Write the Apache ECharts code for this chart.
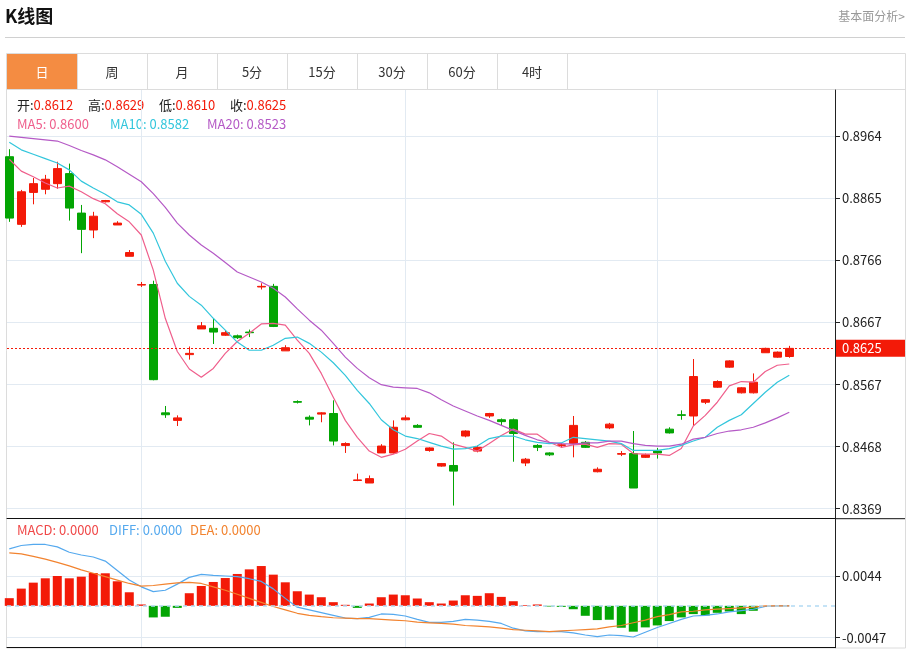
<!DOCTYPE html>
<html><head><meta charset="utf-8">
<script src="https://cdn.jsdelivr.net/npm/echarts@6/dist/echarts.min.js"></script>
<style>html,body{margin:0;padding:0;background:#fff}#c{width:911px;height:650px}</style>
</head><body><div id="c"></div>
<script>
const open = [0.8931,0.8823,0.8874,0.8879,0.8888,0.8904,0.8841,0.8814,0.8859,0.8822,0.8772,0.8726,0.8727,0.8522,0.8510,0.8615,0.8656,0.8657,0.8646,0.8645,0.8651,0.8723,0.8724,0.8621,0.8540,0.8515,0.8520,0.8521,0.8470,0.8414,0.8410,0.8458,0.8458,0.8511,0.8502,0.8462,0.8437,0.8438,0.8485,0.8461,0.8517,0.8511,0.8511,0.8442,0.8470,0.8458,0.8470,0.8473,0.8475,0.8428,0.8498,0.8456,0.8457,0.8451,0.8461,0.8496,0.8519,0.8517,0.8539,0.8563,0.8595,0.8554,0.8554,0.8618,0.8611,0.8612];
const close = [0.8833,0.8875,0.8888,0.8895,0.8912,0.8849,0.8815,0.8836,0.8861,0.8825,0.8778,0.8727,0.8575,0.8519,0.8514,0.8617,0.8661,0.8651,0.8650,0.8642,0.8650,0.8724,0.8660,0.8626,0.8539,0.8512,0.8522,0.8477,0.8473,0.8415,0.8417,0.8469,0.8499,0.8514,0.8499,0.8466,0.8441,0.8429,0.8493,0.8467,0.8521,0.8508,0.8489,0.8448,0.8467,0.8455,0.8471,0.8502,0.8467,0.8432,0.8504,0.8457,0.8402,0.8455,0.8458,0.8490,0.8518,0.8580,0.8543,0.8572,0.8605,0.8562,0.8571,0.8625,0.8619,0.8625];
const low = [0.8827,0.8819,0.8855,0.8871,0.8880,0.8829,0.8777,0.8801,0.8858,0.8822,0.8772,0.8723,0.8574,0.8514,0.8501,0.8607,0.8656,0.8632,0.8645,0.8640,0.8643,0.8719,0.8659,0.8621,0.8537,0.8502,0.8507,0.8470,0.8458,0.8413,0.8410,0.8458,0.8457,0.8510,0.8498,0.8460,0.8436,0.8374,0.8483,0.8459,0.8514,0.8501,0.8444,0.8437,0.8461,0.8453,0.8467,0.8451,0.8466,0.8427,0.8496,0.8453,0.8402,0.8450,0.8449,0.8489,0.8511,0.8501,0.8536,0.8562,0.8594,0.8553,0.8553,0.8618,0.8610,0.8610];
const high = [0.8943,0.8878,0.8897,0.8902,0.8923,0.8920,0.8854,0.8843,0.8862,0.8828,0.8782,0.8731,0.8733,0.8533,0.8518,0.8628,0.8667,0.8673,0.8654,0.8647,0.8655,0.8729,0.8728,0.8630,0.8542,0.8518,0.8523,0.8542,0.8475,0.8425,0.8422,0.8472,0.8510,0.8518,0.8504,0.8467,0.8442,0.8475,0.8494,0.8470,0.8522,0.8513,0.8513,0.8450,0.8472,0.8459,0.8474,0.8517,0.8477,0.8435,0.8506,0.8461,0.8493,0.8457,0.8466,0.8499,0.8526,0.8608,0.8544,0.8574,0.8606,0.8563,0.8585,0.8626,0.8620,0.8629];
const ma5 = [0.8927,0.8908,0.8899,0.8889,0.8881,0.8884,0.8875,0.8864,0.8856,0.8840,0.8827,0.8806,0.8750,0.8673,0.8620,0.8592,0.8579,0.8593,0.8617,0.8636,0.8649,0.8664,0.8665,0.8662,0.8638,0.8617,0.8585,0.8547,0.8510,0.8483,0.8461,0.8451,0.8456,0.8464,0.8477,0.8489,0.8485,0.8472,0.8467,0.8461,0.8473,0.8486,0.8496,0.8488,0.8488,0.8475,0.8467,0.8471,0.8472,0.8467,0.8473,0.8472,0.8457,0.8456,0.8456,0.8454,0.8465,0.8501,0.8518,0.8539,0.8565,0.8572,0.8571,0.8588,0.8598,0.8600];
const ma10 = [0.8954,0.8942,0.8935,0.8928,0.8921,0.8910,0.8892,0.8881,0.8871,0.8859,0.8854,0.8839,0.8809,0.8764,0.8729,0.8708,0.8694,0.8673,0.8654,0.8635,0.8622,0.8622,0.8630,0.8641,0.8643,0.8633,0.8619,0.8602,0.8582,0.8558,0.8537,0.8511,0.8495,0.8485,0.8481,0.8475,0.8469,0.8464,0.8465,0.8469,0.8481,0.8485,0.8485,0.8479,0.8475,0.8473,0.8474,0.8483,0.8481,0.8479,0.8477,0.8473,0.8462,0.8462,0.8462,0.8465,0.8470,0.8477,0.8483,0.8499,0.8510,0.8519,0.8537,0.8555,0.8571,0.8582];
const ma20 = [0.8964,0.8962,0.8960,0.8958,0.8956,0.8949,0.8941,0.8934,0.8926,0.8915,0.8903,0.8891,0.8872,0.8850,0.8825,0.8806,0.8790,0.8777,0.8762,0.8747,0.8739,0.8731,0.8721,0.8707,0.8688,0.8670,0.8654,0.8633,0.8611,0.8593,0.8578,0.8567,0.8563,0.8562,0.8561,0.8554,0.8543,0.8533,0.8525,0.8517,0.8510,0.8502,0.8494,0.8486,0.8479,0.8475,0.8473,0.8472,0.8474,0.8474,0.8477,0.8477,0.8473,0.8470,0.8469,0.8469,0.8472,0.8480,0.8483,0.8489,0.8493,0.8495,0.8499,0.8506,0.8514,0.8523];
const macd = [0.00113,0.00254,0.00342,0.00406,0.0044,0.00406,0.0043,0.00484,0.0048,0.00362,0.002,0.0002,-0.00171,-0.00161,-0.0003,0.00186,0.00293,0.00352,0.0041,0.0047,0.00538,0.00587,0.0046,0.00347,0.00215,0.00166,0.00127,0.00054,0.00015,-0.0003,0.00034,0.00127,0.00166,0.00156,0.00108,0.00054,0.00034,0.00078,0.00156,0.00147,0.00186,0.00132,0.00068,0.0001,0.0002,-0.0001,-0.00015,-0.0005,-0.00147,-0.0021,-0.00205,-0.00323,-0.00381,-0.00318,-0.00289,-0.00225,-0.00171,-0.00122,-0.00142,-0.00103,-0.00083,-0.00122,-0.00073,0,0,0];
const diff = [0.0084,0.0089,0.00905,0.00905,0.0087,0.0079,0.0075,0.0072,0.0066,0.0052,0.0038,0.0028,0.0021,0.0023,0.0032,0.0042,0.00465,0.0045,0.0044,0.0043,0.0040,0.0036,0.0025,0.0011,-0.0002,-0.0006,-0.001,-0.0014,-0.0018,-0.0019,-0.0017,-0.0012,-0.00127,-0.0015,-0.002,-0.00245,-0.00245,-0.0023,-0.002,-0.0021,-0.0023,-0.0026,-0.0033,-0.0037,-0.0038,-0.0038,-0.0038,-0.004,-0.0043,-0.00455,-0.0043,-0.0044,-0.0046,-0.0039,-0.0032,-0.0026,-0.002,-0.0015,-0.0014,-0.0012,-0.0009,-0.0007,-0.0005,-0.0001,0,0];
const dea = [0.0078,0.00766,0.0073,0.0069,0.0064,0.0059,0.0053,0.0048,0.0043,0.0038,0.0033,0.0029,0.0030,0.0032,0.0034,0.00347,0.0033,0.0028,0.0023,0.0017,0.0011,0.0005,-0.0001,-0.0006,-0.0011,-0.0014,-0.0016,-0.00176,-0.0018,-0.0019,-0.0019,-0.002,-0.0021,-0.0022,-0.0024,-0.0025,-0.0026,-0.0027,-0.0029,-0.003,-0.0031,-0.0033,-0.0035,-0.0036,-0.0037,-0.0038,-0.0037,-0.0036,-0.0035,-0.0034,-0.0031,-0.0029,-0.0025,-0.0021,-0.0016,-0.0013,-0.0009,-0.0008,-0.0006,-0.0005,-0.0004,-0.0003,-0.0002,0,0,0];
const priceTicks = [0.8369,0.8468,0.8567,0.8667,0.8766,0.8865,0.8964];
const macdTicks = [-0.0047,0.0044];
const monthSplits = [11,33,54];
const tabs = ['日','周','月','5分','15分','30分','60分','4时'];

const RED = '#f31a08', GREEN = '#03a503';
const C5 = '#ef5f8c', C10 = '#33c6dc', C20 = '#b55ac6';
const CDIFF = '#55a9ee', CDEA = '#f2832f', CMACD = '#f04848';
const FONT = '"Microsoft YaHei","Noto Sans CJK SC",sans-serif';
const n = open.length, L = n - 1;

const chart = echarts.init(document.getElementById('c'), null, {renderer: 'canvas'});
const idx = a => a.map((v, i) => [i, v]);

const graphic = [];
graphic.push({type:'text', left:5, top:7, style:{text:'K线图', fill:'#111', font:'bold 18px ' + FONT}});
graphic.push({type:'text', right:6, top:10, style:{text:'基本面分析>', font:'12px ' + FONT, fill:'#999'}});
graphic.push({type:'line', shape:{x1:5, y1:37.5, x2:905, y2:37.5}, style:{stroke:'#d0d0d0', lineWidth:1}});
graphic.push({type:'rect', shape:{x:6.5, y:53.5, width:899, height:594.5}, style:{fill:'none', stroke:'#dcdcdc', lineWidth:1}, z:-1});
graphic.push({type:'rect', shape:{x:7, y:54, width:70, height:35}, style:{fill:'#f48c42'}});
graphic.push({type:'line', shape:{x1:7, y1:89.5, x2:905, y2:89.5}, style:{stroke:'#dcdcdc', lineWidth:1}});
tabs.forEach((t, k) => {
  const x0 = 7 + 70 * k;
  graphic.push({type:'line', shape:{x1:x0 + 70.5, y1:54, x2:x0 + 70.5, y2:89}, style:{stroke:'#dcdcdc', lineWidth:1}});
  graphic.push({type:'text', x:x0 + 35, y:72, style:{text:t, font:'13px ' + FONT, fill:k === 0 ? '#fff' : '#333', align:'center', verticalAlign:'middle'}});
});
graphic.push({type:'line', shape:{x1:835, y1:518.7, x2:905, y2:518.7}, style:{stroke:'#111', lineWidth:1}});

const f4 = v => v.toFixed(4);
function pair(x, y, k, v, kc, vc) {
  graphic.push({type:'text', x:x, y:y, style:{text:'{a|' + k + '}{b|' + v + '}', verticalAlign:'middle', font:'13px ' + FONT,
    rich:{a:{fill:kc, font:'13px ' + FONT}, b:{fill:vc, font:'13px ' + FONT}}}});
}
pair(17, 105, '开:', f4(open[L]), '#222', RED);
pair(88, 105, '高:', f4(high[L]), '#222', RED);
pair(159, 105, '低:', f4(low[L]), '#222', RED);
pair(230, 105, '收:', f4(close[L]), '#222', RED);
pair(17, 124, 'MA5: ', f4(ma5[L]), C5, C5);
pair(110, 124, 'MA10: ', f4(ma10[L]), C10, C10);
pair(207, 124, 'MA20: ', f4(ma20[L]), C20, C20);
pair(17, 530, 'MACD: ', f4(macd[L]), CMACD, CMACD);
pair(109, 530, 'DIFF: ', f4(diff[L]), CDIFF, CDIFF);
pair(190, 530, 'DEA: ', f4(dea[L]), CDEA, CDEA);

const splitColor = '#e2eaf2';
const xBase = {type:'value', min:-0.19, max:68.81,
  axisLine:{show:true, onZero:false, lineStyle:{color:'#111', width:1}},
  axisTick:{show:false, customValues:monthSplits},
  axisLabel:{show:false, customValues:monthSplits},
  splitLine:{show:true, lineStyle:{color:splitColor, width:1}}};

const option = {
  animation:false,
  backgroundColor:'#fff',
  textStyle:{fontFamily:FONT},
  graphic:graphic,
  grid:[
    {left:7, top:90, width:828, height:428.7},
    {left:7, top:518.7, width:828, height:129}
  ],
  xAxis:[Object.assign({gridIndex:0}, xBase), Object.assign({gridIndex:1}, xBase)],
  yAxis:[
    {gridIndex:0, type:'value', position:'right', min:0.835302, max:0.903752, scale:true,
      axisLine:{show:true, onZero:false, lineStyle:{color:'#222'}},
      axisTick:{show:true, length:5, customValues:priceTicks, lineStyle:{color:'#222'}},
      axisLabel:{customValues:priceTicks, formatter:f4, color:'#222', fontSize:13, margin:7, fontFamily:FONT},
      splitLine:{show:true, lineStyle:{color:splitColor}}},
    {gridIndex:1, type:'value', position:'right', min:-0.006175, max:0.012851, scale:true,
      axisLine:{show:true, onZero:false, lineStyle:{color:'#222'}},
      axisTick:{show:true, length:5, customValues:macdTicks, lineStyle:{color:'#222'}},
      axisLabel:{customValues:macdTicks, formatter:f4, color:'#222', fontSize:13, margin:7, fontFamily:FONT},
      splitLine:{show:true, lineStyle:{color:splitColor}}}
  ],
  series:[
    {type:'candlestick', xAxisIndex:0, yAxisIndex:0, barWidth:9,
      encode:{x:0, y:[1,2,3,4]},
      data:open.map((o, i) => [i, o, close[i], low[i], high[i]]),
      itemStyle:{color:RED, color0:GREEN, borderColor:RED, borderColor0:GREEN, borderColorDoji:RED, borderWidth:1}},
    {type:'line', name:'last', xAxisIndex:0, yAxisIndex:0, data:[[L, close[L]]], showSymbol:false,
      lineStyle:{opacity:0}, itemStyle:{opacity:0},
      markLine:{silent:true, symbol:'none', animation:false, precision:4,
        lineStyle:{color:RED, type:[2,2], width:1},
        label:{position:'end', distance:1, formatter:() => f4(close[L]), color:'#fff', backgroundColor:RED,
          padding:[2,6,2,6], width:57, lineHeight:13, fontSize:13, fontFamily:FONT, align:'left'},
        data:[{yAxis:close[L]}]}},
    {type:'line', name:'MA5', xAxisIndex:0, yAxisIndex:0, data:idx(ma5), showSymbol:false, lineStyle:{color:C5, width:1.2}, itemStyle:{color:C5}},
    {type:'line', name:'MA10', xAxisIndex:0, yAxisIndex:0, data:idx(ma10), showSymbol:false, lineStyle:{color:C10, width:1.2}, itemStyle:{color:C10}},
    {type:'line', name:'MA20', xAxisIndex:0, yAxisIndex:0, data:idx(ma20), showSymbol:false, lineStyle:{color:C20, width:1.2}, itemStyle:{color:C20}},
    {type:'bar', name:'MACD', xAxisIndex:1, yAxisIndex:1, barWidth:9, data:idx(macd),
      itemStyle:{color:p => p.value[1] >= 0 ? RED : GREEN},
      markLine:{silent:true, symbol:'none', animation:false, precision:4, label:{show:false},
        lineStyle:{color:'#b3daf3', type:[4,4], width:1.5}, data:[{yAxis:0}]}},
    {type:'line', name:'DIFF', xAxisIndex:1, yAxisIndex:1, data:idx(diff), showSymbol:false, lineStyle:{color:CDIFF, width:1.2}, itemStyle:{color:CDIFF}},
    {type:'line', name:'DEA', xAxisIndex:1, yAxisIndex:1, data:idx(dea), showSymbol:false, lineStyle:{color:CDEA, width:1.2}, itemStyle:{color:CDEA}}
  ]
};
chart.setOption(option);
</script>
</body></html>
